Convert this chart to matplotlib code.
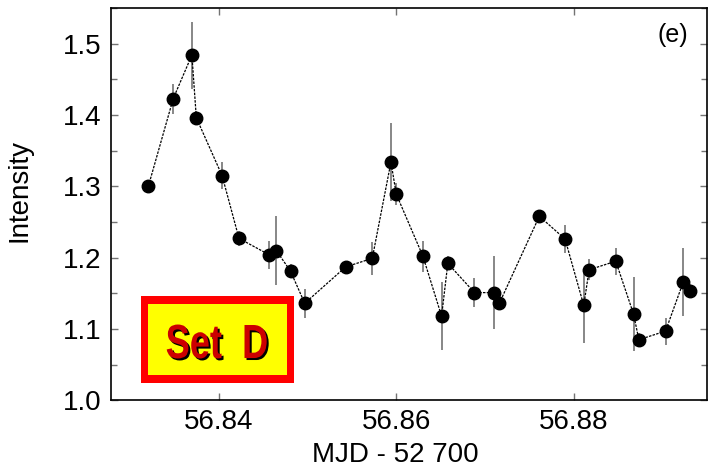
import matplotlib
matplotlib.use('Agg')
import matplotlib.pyplot as plt
from matplotlib.font_manager import FontProperties
from matplotlib.patches import Rectangle, PathPatch
from matplotlib.textpath import TextPath
from matplotlib.transforms import Affine2D
from matplotlib.ticker import MultipleLocator, FormatStrFormatter

# light curve, set D
mjd = [56.8321, 56.8349, 56.8370, 56.8375, 56.8404, 56.8423, 56.8457, 56.8465,
       56.8481, 56.8497, 56.8543, 56.8573, 56.8594, 56.8600, 56.8630, 56.8651,
       56.8658, 56.8688, 56.8710, 56.8716, 56.8761, 56.8790, 56.8811, 56.8817,
       56.8847, 56.8867, 56.8873, 56.8903, 56.8923, 56.8930]
intensity = [1.300, 1.423, 1.484, 1.396, 1.315, 1.227, 1.204, 1.210,
             1.181, 1.136, 1.187, 1.199, 1.334, 1.289, 1.202, 1.118,
             1.192, 1.151, 1.151, 1.136, 1.258, 1.226, 1.133, 1.183,
             1.195, 1.121, 1.085, 1.097, 1.166, 1.153]
error = [0.006, 0.021, 0.047, 0.010, 0.019, 0.010, 0.020, 0.048,
         0.010, 0.020, 0.008, 0.023, 0.055, 0.015, 0.022, 0.048,
         0.010, 0.020, 0.051, 0.010, 0.008, 0.020, 0.053, 0.015,
         0.019, 0.052, 0.010, 0.019, 0.048, 0.010]

set_label = 'Set  D'
panel_label = '(e)'

plt.rcParams['font.family'] = ['Liberation Sans', 'DejaVu Sans']


def add_set_label(fig, text, cx, cy, width, height):
    """Draws a condensed bold label with a black drop shadow, sizes in pixels"""
    tp = TextPath((0, 0), text, size=1,
                  prop=FontProperties(family='Liberation Sans', weight='bold'))
    bb = tp.get_extents()
    base = (Affine2D().translate(-bb.x0 - bb.width / 2, -bb.y0 - bb.height / 2)
            .scale(width / bb.width, height / bb.height))
    for dx, dy, col, z in [(2, -2, 'k', 6), (0, 0, '#cc0000', 7)]:
        tr = base + Affine2D().translate(cx + dx, cy + dy).scale(1 / fig.dpi) + fig.dpi_scale_trans
        fig.add_artist(PathPatch(tp, transform=tr, facecolor=col, edgecolor='none', zorder=z))


def main() -> None:
    fig = plt.figure(figsize=(7.14, 4.67), dpi=100)
    ax = fig.add_axes([0.1555, 0.1428, 0.8351, 0.8401])

    ax.errorbar(mjd, intensity, yerr=error, fmt='none', ecolor='0.45',
                elinewidth=1.2, capsize=0, zorder=1)
    ax.plot(mjd, intensity, ls=(0, (2, 1)), color='k', lw=0.9, zorder=2)
    ax.plot(mjd, intensity, 'o', color='k', ms=9, zorder=3)

    ax.set_xlim(56.8279, 56.8950)
    ax.set_ylim(1.0, 1.55)
    ax.xaxis.set_major_locator(MultipleLocator(0.02))
    ax.xaxis.set_major_formatter(FormatStrFormatter('%.2f'))
    ax.yaxis.set_major_locator(MultipleLocator(0.1))
    ax.yaxis.set_minor_locator(MultipleLocator(0.05))
    ax.yaxis.set_major_formatter(FormatStrFormatter('%.1f'))
    ax.tick_params(which='both', direction='in', top=True, right=True,
                   color='0.45', width=1, labelsize=20)
    ax.tick_params(which='major', length=5)
    ax.tick_params(which='minor', length=4)
    ax.tick_params(axis='x', pad=6)
    ax.tick_params(axis='y', pad=7)
    for sp in ax.spines.values():
        sp.set_linewidth(1.2)

    ax.set_xlabel('MJD - 52 700', fontsize=20)
    ax.xaxis.set_label_coords(0.4765, -0.105)
    ax.set_ylabel('Intensity', fontsize=20)
    ax.yaxis.set_label_coords(-0.131, 0.534)

    ax.text(0.942, 0.931, panel_label, transform=ax.transAxes, fontsize=18,
            ha='center', va='center')

    # "Set D" box
    ax.add_patch(Rectangle((0.0498, 0.045), 0.2572, 0.220, transform=ax.transAxes,
                           facecolor='#ff0000', edgecolor='none', zorder=4))
    ax.add_patch(Rectangle((0.0626, 0.0638), 0.2322, 0.1812, transform=ax.transAxes,
                           facecolor='#ffff00', edgecolor='none', zorder=5))
    add_set_label(fig, set_label, 216.7, 467 - 341.5, 100, 34)

    fig.savefig('out.png', dpi=100)


if __name__ == '__main__':
    main()
